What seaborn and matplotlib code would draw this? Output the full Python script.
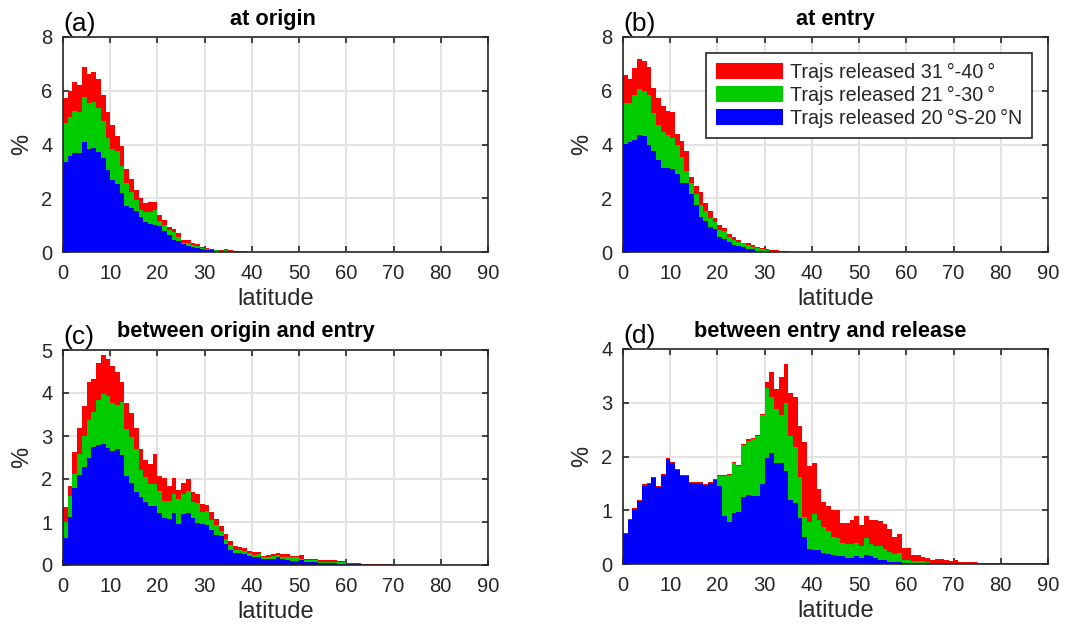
import numpy as np
import pandas as pd
import matplotlib
matplotlib.use("Agg")
import matplotlib.pyplot as plt
import seaborn as sns
from matplotlib.patches import Patch

# ---------------- data (percent per 1-degree latitude bin) -------------
series_names = ["Trajs released 20\u2009\u00b0S-20\u2009\u00b0N", "Trajs released 21\u2009\u00b0-30\u2009\u00b0",
                "Trajs released 31\u2009\u00b0-40\u2009\u00b0"]
series_colors = ["#0000ff", "#00cc00", "#ff0000"]
panel_titles = ["at origin", "at entry", "between origin and entry", "between entry and release"]
panel_letters = ["(a)", "(b)", "(c)", "(d)"]
y_max = [8, 8, 5, 4]
y_step = [2, 2, 1, 1]
x_ticks = list(range(0, 91, 10))

# panel (a): tropics series, and cumulative tops of the stacked 21-30 and 31-40 series
a_blue = [3.35, 3.56, 3.68, 3.68, 4.09, 3.85, 3.88, 3.73, 3.51, 3.04, 2.68, 2.54, 2.20, 1.72, 1.64, 1.51, 1.31, 1.11, 1.06, 1.01,
          0.95, 0.78, 0.62, 0.46, 0.42, 0.30, 0.23, 0.20, 0.16, 0.11, 0.07, 0.06, 0.05, 0.05, 0.05, 0.03, 0.02, 0.01, 0.01]
a_green_top = [4.79, 5.01, 5.26, 5.21, 5.75, 5.53, 5.57, 5.35, 4.86, 4.26, 3.85, 3.74, 3.20, 2.58, 2.22, 1.93, 1.58, 1.47, 1.50, 1.56,
               1.14, 0.99, 0.81, 0.73, 0.57, 0.35, 0.35, 0.26, 0.22, 0.15, 0.10, 0.07, 0.06, 0.05, 0.08, 0.04, 0.02, 0.01, 0.01]
a_red_top = [5.72, 5.98, 6.33, 6.23, 6.90, 6.64, 6.68, 6.42, 5.86, 5.20, 4.72, 4.33, 3.94, 3.09, 2.70, 2.32, 2.00, 1.81, 1.86, 1.86,
             1.38, 1.19, 0.94, 0.86, 0.72, 0.44, 0.44, 0.35, 0.31, 0.20, 0.14, 0.10, 0.09, 0.09, 0.12, 0.06, 0.05, 0.02, 0.02]

# panel (b)
b_blue = [4.01, 4.10, 4.15, 4.37, 4.32, 3.98, 3.75, 3.41, 3.14, 3.14, 3.07, 2.89, 2.58, 2.58, 2.15, 1.75, 1.32, 1.16, 0.94, 0.85,
          0.54, 0.48, 0.36, 0.27, 0.21, 0.17, 0.10, 0.10, 0.05, 0.04, 0.04, 0.03, 0.02, 0.01, 0.00]
b_green_top = [5.53, 5.53, 5.85, 6.06, 6.00, 5.84, 5.17, 4.73, 4.47, 4.35, 4.25, 3.99, 3.54, 3.01, 2.58, 2.15, 1.75, 1.52, 1.25, 1.10,
               0.83, 0.78, 0.56, 0.44, 0.38, 0.32, 0.27, 0.20, 0.14, 0.10, 0.07, 0.05, 0.05, 0.02, 0.01]
b_red_top = [6.60, 6.44, 6.84, 7.20, 7.12, 6.90, 6.09, 5.72, 5.42, 5.26, 5.22, 4.40, 4.12, 3.75, 2.79, 2.44, 2.22, 1.84, 1.51, 1.25,
             1.01, 0.91, 0.68, 0.56, 0.44, 0.33, 0.32, 0.25, 0.17, 0.14, 0.10, 0.07, 0.06, 0.04, 0.04]

# panel (c)
c_blue = [0.63, 1.11, 1.79, 2.10, 2.29, 2.50, 2.75, 2.78, 2.82, 2.72, 2.65, 2.69, 2.55, 2.08, 1.91, 1.70, 1.58, 1.47, 1.37, 1.37,
          1.21, 1.10, 1.07, 1.22, 0.95, 1.18, 1.20, 1.10, 0.97, 0.96, 0.92, 0.81, 0.69, 0.67, 0.50, 0.36, 0.29, 0.27, 0.25, 0.21,
          0.18, 0.19, 0.14, 0.15, 0.15, 0.18, 0.13, 0.12, 0.10, 0.10, 0.12, 0.06, 0.06, 0.06, 0.04, 0.04, 0.04, 0.04, 0.03, 0.03,
          0.02, 0.02, 0.02] + [0.005] * 7 + [0.003] * 20
c_green_top = [1.00, 1.61, 2.11, 2.58, 3.01, 3.37, 3.55, 3.83, 3.97, 3.93, 3.76, 3.71, 3.78, 3.16, 2.97, 2.70, 2.20, 2.04, 1.89, 1.89,
               1.72, 1.50, 1.49, 1.66, 1.54, 1.66, 1.72, 1.47, 1.45, 1.23, 1.25, 1.04, 0.93, 0.79, 0.61, 0.46, 0.36, 0.35, 0.33, 0.27,
               0.23, 0.25, 0.18, 0.19, 0.21, 0.23, 0.19, 0.19, 0.18, 0.18, 0.15, 0.12, 0.12, 0.12, 0.08, 0.08, 0.08, 0.08, 0.06, 0.06,
               0.03, 0.03, 0.03] + [0.01] * 7 + [0.005] * 20
c_red_top = [1.35, 1.83, 2.62, 3.19, 3.70, 4.25, 4.33, 4.69, 4.88, 4.78, 4.62, 4.49, 4.25, 3.77, 3.53, 3.19, 2.70, 2.45, 2.35, 2.58,
             2.06, 2.03, 1.83, 2.03, 1.74, 1.91, 2.01, 1.70, 1.66, 1.43, 1.39, 1.23, 1.08, 0.90, 0.71, 0.56, 0.44, 0.42, 0.39, 0.32,
             0.30, 0.30, 0.22, 0.23, 0.25, 0.29, 0.25, 0.26, 0.20, 0.20, 0.23, 0.14, 0.14, 0.14, 0.12, 0.12, 0.12, 0.12, 0.09, 0.09,
             0.05, 0.05, 0.05] + [0.02] * 7 + [0.01] * 20

# panel (d)
d_blue = [0.56, 0.82, 1.03, 1.18, 1.46, 1.49, 1.60, 1.44, 1.66, 1.95, 1.88, 1.74, 1.63, 1.63, 1.50, 1.50, 1.50, 1.47, 1.51, 1.57,
          1.46, 0.89, 0.78, 0.95, 0.97, 1.25, 1.28, 1.27, 1.26, 1.49, 1.98, 2.06, 1.87, 1.88, 1.73, 1.20, 1.13, 0.85, 0.50, 0.27,
          0.26, 0.26, 0.20, 0.19, 0.16, 0.15, 0.15, 0.12, 0.12, 0.15, 0.12, 0.17, 0.14, 0.12, 0.08, 0.08, 0.04, 0.04, 0.03] \
         + [0.02] * 6 + [0.01] * 10 + [0.005] * 15
d_green_top = [0.56, 0.82, 1.03, 1.18, 1.46, 1.49, 1.60, 1.44, 1.66, 1.95, 1.88, 1.74, 1.63, 1.63, 1.50, 1.50, 1.50, 1.47, 1.51, 1.57,
               1.63, 1.63, 1.66, 1.87, 1.83, 2.21, 2.29, 2.32, 2.38, 2.77, 3.28, 3.10, 2.89, 2.77, 3.00, 2.38, 2.18, 1.61, 0.87, 0.79,
               0.93, 0.82, 0.68, 0.62, 0.50, 0.48, 0.40, 0.37, 0.37, 0.40, 0.33, 0.48, 0.37, 0.33, 0.33, 0.28, 0.22, 0.19, 0.20,
               0.07, 0.07, 0.06, 0.06, 0.05, 0.03, 0.02, 0.02, 0.02, 0.02, 0.02, 0.01, 0.01, 0.01, 0.01, 0.01] + [0.005] * 15
d_red_top = [0.58, 0.84, 1.05, 1.20, 1.48, 1.51, 1.62, 1.46, 1.68, 1.97, 1.90, 1.76, 1.65, 1.65, 1.52, 1.52, 1.52, 1.49, 1.53, 1.59,
             1.65, 1.65, 1.68, 1.89, 1.85, 2.23, 2.32, 2.35, 2.40, 2.79, 3.39, 3.57, 3.25, 3.48, 3.72, 3.18, 3.10, 2.56, 2.27, 1.82,
             1.87, 1.39, 1.16, 1.08, 1.00, 1.00, 0.76, 0.76, 0.82, 0.89, 0.73, 0.89, 0.82, 0.82, 0.80, 0.74, 0.65, 0.51, 0.56,
             0.30, 0.30, 0.17, 0.17, 0.13, 0.11, 0.08, 0.09, 0.10, 0.08, 0.06, 0.07, 0.03, 0.03, 0.04, 0.04] + [0.02] * 15

panels = [(a_blue, a_green_top, a_red_top), (b_blue, b_green_top, b_red_top),
          (c_blue, c_green_top, c_red_top), (d_blue, d_green_top, d_red_top)]


def panel_frame(blue, green_top, red_top):
    blue = np.asarray(blue, float)
    green_top = np.maximum(np.asarray(green_top, float), blue)
    red_top = np.maximum(np.asarray(red_top, float), green_top)
    lat = np.arange(len(blue)) + 0.5
    parts = [blue, green_top - blue, red_top - green_top]
    frames = [pd.DataFrame({"lat": lat, "pct": p, "series": name}) for p, name in zip(parts, series_names)]
    return pd.concat(frames, ignore_index=True)


# ---------------- figure ----------------
sns.set_theme(style="white")
plt.rcParams["font.family"] = ["Liberation Sans", "DejaVu Sans"]
plt.rcParams["axes.axisbelow"] = True

W, H = 1066, 630
fig = plt.figure(figsize=(W / 100, H / 100), dpi=100)
boxes = [(63, 37, 488, 252), (623, 37, 1048, 252), (63, 350, 488, 565), (623, 349, 1048, 564)]
title_x = [0.494, 0.50, 0.43, 0.487]
ink = "#262626"

for i, (blue, gtop, rtop) in enumerate(panels):
    l, t, r, b = boxes[i]
    ax = fig.add_axes([l / W, 1 - b / H, (r - l) / W, (b - t) / H])
    df = panel_frame(blue, gtop, rtop)
    # seaborn stacks the first hue level at the top, so list the tropics series last
    sns.histplot(data=df, x="lat", weights="pct", hue="series", hue_order=series_names[::-1],
                 palette=series_colors[::-1], multiple="stack", binwidth=1, binrange=(0, 90),
                 element="step", fill=True, alpha=1, linewidth=0, legend=False, ax=ax,
                 antialiased=False)
    ax.set_xlim(0, 90)
    ax.set_ylim(0, y_max[i])
    ax.set_xticks(x_ticks)
    ax.set_yticks(np.arange(0, y_max[i] + 0.001, y_step[i]))
    ax.grid(True, color="#e3e3e3", linewidth=1.4)
    for s in ax.spines.values():
        s.set_visible(True)
        s.set_color(ink)
        s.set_linewidth(1.2)
    ax.tick_params(direction="in", length=4, width=1.2, top=True, right=True, bottom=True, left=True,
                   color=ink, labelcolor=ink, labelsize=14.5)
    ax.tick_params(axis="x", pad=8.5)
    ax.tick_params(axis="y", pad=7.5)
    ax.set_xlabel("latitude", fontsize=17, color=ink, labelpad=4)
    ax.set_ylabel("%", fontsize=17, color=ink, labelpad=6)
    ax.set_title(panel_titles[i], fontsize=15.7, fontweight="bold", pad=9, color="black", x=title_x[i])
    ax.text(0.0, 1.006, panel_letters[i], transform=ax.transAxes, ha="left", va="bottom",
            fontsize=19, color="black")
    if i == 1:
        handles = [Patch(facecolor=series_colors[k], edgecolor="none", label=series_names[k]) for k in (2, 1, 0)]
        leg = ax.legend(handles=handles, loc="upper right", fontsize=14.2, frameon=True, fancybox=False,
                        framealpha=1, edgecolor=ink, handlelength=3.4, handleheight=0.85,
                        borderaxespad=0.8, labelspacing=0.2, handletextpad=0.35, borderpad=0.5)
        leg.get_frame().set_linewidth(1.2)

fig.savefig("out.png", dpi=100)
